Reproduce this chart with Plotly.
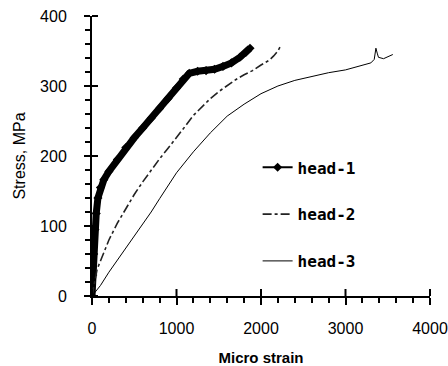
import numpy as np
import plotly.graph_objects as go

# head-1 (thick curve with markers)
h1_strain = [0, 10, 20, 35, 50, 70, 100, 140, 200, 300, 400, 500, 600, 700, 800, 900, 1000, 1080, 1150, 1250, 1350, 1450, 1550, 1650, 1750, 1820, 1870]
h1_stress = [0, 30, 60, 95, 118, 140, 155, 166, 178, 195, 212, 226, 240, 254, 268, 282, 297, 310, 318, 321, 322, 324, 328, 333, 341, 348, 354]

# head-2 (dashed curve)
h2_strain = [0, 30, 60, 100, 200, 300, 400, 500, 600, 700, 800, 900, 1000, 1100, 1200, 1300, 1400, 1500, 1600, 1700, 1800, 1900, 2000, 2100, 2150, 2200, 2240]
h2_stress = [0, 22, 38, 50, 80, 104, 125, 145, 163, 180, 196, 211, 226, 242, 258, 270, 282, 292, 301, 309, 316, 322, 330, 337, 343, 350, 359]

# head-3 (thin solid curve)
h3_strain = [0, 100, 200, 300, 400, 500, 600, 700, 800, 900, 1000, 1200, 1400, 1600, 1800, 2000, 2200, 2400, 2600, 2800, 3000, 3200, 3300, 3340, 3360, 3375, 3390, 3450, 3520, 3560]
h3_stress = [0, 15, 34, 51, 68, 85, 102, 120, 139, 157, 176, 206, 233, 257, 274, 289, 300, 308, 314, 319, 323, 329, 333, 338, 354, 347, 341, 339, 343, 345]

series_names = ["head-1", "head-2", "head-3"]

x_range = [0, 4000]
y_range = [0, 400]
x_major, x_minor = 1000, 200
y_major, y_minor = 100, 20

fig = go.Figure()

fig.add_trace(go.Scatter(x=h1_strain, y=h1_stress, mode="lines",
                         line=dict(color="black", width=7), showlegend=False))
fig.add_trace(go.Scatter(x=h1_strain, y=h1_stress, mode="lines+markers",
                         name="<b>" + series_names[0] + "</b>",
                         line=dict(color="black", width=2),
                         marker=dict(symbol="diamond", size=7, color="black"),
                         legendgroup="g1"))
fig.add_trace(go.Scatter(x=h2_strain, y=h2_stress, mode="lines",
                         name="<b>" + series_names[1] + "</b>",
                         line=dict(color="#222", width=1.6, dash="dashdot"),
                         legendgroup="g2"))
fig.add_trace(go.Scatter(x=h3_strain, y=h3_stress, mode="lines",
                         name="<b>" + series_names[2] + "</b>",
                         line=dict(color="black", width=1),
                         legendgroup="g3"))

# inner halves of the crossing major ticks
def xfrac(v):
    return (v - x_range[0]) / (x_range[1] - x_range[0])
def yfrac(v):
    return (v - y_range[0]) / (y_range[1] - y_range[0])

shapes = []
for v in np.arange(x_range[0], x_range[1] + 1, x_major):
    shapes.append(dict(type="line", xref="paper", yref="paper", layer="above",
                       x0=xfrac(v), x1=xfrac(v), ysizemode="pixel", yanchor=0,
                       y0=0, y1=7, line=dict(color="black", width=2)))
for v in np.arange(y_range[0], y_range[1] + 1, y_major):
    shapes.append(dict(type="line", xref="paper", yref="paper", layer="above",
                       y0=yfrac(v), y1=yfrac(v), xsizemode="pixel", xanchor=0,
                       x0=0, x1=6, line=dict(color="black", width=2)))

tick_font = dict(family="Liberation Sans, Arial, sans-serif", size=16, color="black")

fig.update_layout(
    template="none",
    width=448, height=366,
    margin=dict(l=92, r=18, t=16, b=70),
    paper_bgcolor="white", plot_bgcolor="white",
    font=dict(color="black", family="Liberation Sans, Arial, sans-serif"),
    showlegend=True,
    legend=dict(x=0.49, y=0.52, xanchor="left", yanchor="top",
                bgcolor="rgba(0,0,0,0)", borderwidth=0, tracegroupgap=23,
                font=dict(family="DejaVu Sans Mono", size=16, color="black")),
    shapes=shapes,
    xaxis=dict(range=x_range, tickmode="linear", tick0=0, dtick=x_major,
               showgrid=False, zeroline=False, showline=True, linecolor="black", linewidth=2,
               ticks="outside", ticklen=7, tickwidth=2, tickcolor="black",
               ticklabelstandoff=10, tickfont=tick_font,
               minor=dict(dtick=x_minor, ticks="outside", ticklen=5, tickwidth=1.5,
                          tickcolor="black", showgrid=False),
               title=dict(text="<b>Micro strain</b>", standoff=18,
                          font=dict(family="Liberation Sans, Arial, sans-serif", size=15, color="black"))),
    yaxis=dict(range=y_range, tickmode="linear", tick0=0, dtick=y_major,
               showgrid=False, zeroline=False, showline=True, linecolor="black", linewidth=2,
               ticks="outside", ticklen=6, tickwidth=2, tickcolor="black",
               ticklabelstandoff=14, tickfont=tick_font,
               minor=dict(dtick=y_minor, ticks="outside", ticklen=5, tickwidth=1.5,
                          tickcolor="black", showgrid=False),
               title=dict(text="Stress, MPa", standoff=10,
                          font=dict(family="Liberation Sans, Arial, sans-serif", size=16, color="black"))),
)

fig.write_html("out.html")
